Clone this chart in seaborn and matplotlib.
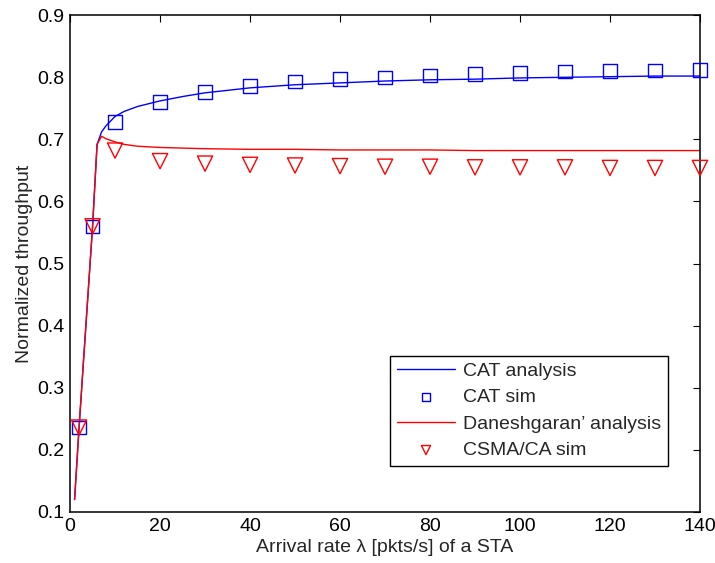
import seaborn as sns
import matplotlib.pyplot as plt
import pandas as pd

# analysis curves
ana_x = [1, 2, 3, 4, 5, 6, 7, 8, 10, 12, 15, 20, 25, 30, 40, 50, 60, 70, 80, 90, 100, 110, 120, 130, 140]
cat_ana = [0.12, 0.236, 0.345, 0.452, 0.56, 0.692, 0.712, 0.722, 0.737, 0.745, 0.753, 0.762, 0.769, 0.775, 0.783,
           0.788, 0.791, 0.794, 0.796, 0.797, 0.799, 0.800, 0.801, 0.802, 0.802]
dan_ana = [0.12, 0.236, 0.345, 0.452, 0.56, 0.692, 0.705, 0.701, 0.696, 0.692, 0.689, 0.687, 0.686, 0.685, 0.684,
           0.684, 0.683, 0.683, 0.683, 0.682, 0.682, 0.682, 0.682, 0.682, 0.682]

# simulation points
sim_x = [2, 5, 10, 20, 30, 40, 50, 60, 70, 80, 90, 100, 110, 120, 130, 140]
cat_sim = [0.236, 0.56, 0.728, 0.760, 0.776, 0.786, 0.793, 0.797, 0.800, 0.803, 0.805, 0.807, 0.809, 0.810, 0.811, 0.812]
csma_sim = [0.236, 0.56, 0.682, 0.665, 0.661, 0.659, 0.658, 0.657, 0.656, 0.656, 0.655, 0.655, 0.655, 0.654, 0.654, 0.654]

sns.set_style("white")
plt.rcParams['font.family'] = ['Liberation Sans', 'DejaVu Sans']
fs = 14

fig = plt.figure(figsize=(7.15, 5.63), dpi=100)
ax = fig.add_axes([0.098, 0.0906, 0.881, 0.8824])

ana = pd.DataFrame({'x': ana_x, 'cat': cat_ana, 'dan': dan_ana})
sim = pd.DataFrame({'x': sim_x, 'cat': cat_sim, 'csma': csma_sim})

sns.lineplot(data=ana, x='x', y='cat', ax=ax, color='blue', lw=1, label='CAT analysis')
sns.scatterplot(data=sim, x='x', y='cat', ax=ax, marker='s', s=95, facecolor='none',
                edgecolor='blue', linewidth=1, label='CAT sim', clip_on=False, zorder=3)
sns.lineplot(data=ana, x='x', y='dan', ax=ax, color='red', lw=1, label='Daneshgaran\u2019 analysis')
sns.scatterplot(data=sim, x='x', y='csma', ax=ax, marker='v', s=120, facecolor='none',
                edgecolor='red', linewidth=1, label='CSMA/CA sim', clip_on=False, zorder=3)

ax.set_xlim(0, 140)
ax.set_ylim(0.1, 0.9)
ax.set_xticks(range(0, 141, 20))
ax.set_yticks([0.1, 0.2, 0.3, 0.4, 0.5, 0.6, 0.7, 0.8, 0.9])
ax.set_xlabel('Arrival rate \u03bb [pkts/s] of a STA', fontsize=fs, labelpad=3)
ax.set_ylabel('Normalized throughput', fontsize=fs, labelpad=3)
ax.tick_params(axis='x', pad=4)
ax.tick_params(axis='y', pad=4)
ax.tick_params(direction='in', length=5, width=0.8, labelsize=fs, top=True, right=True, colors='black')
for sp in ax.spines.values():
    sp.set_visible(True)
    sp.set_color('black')
    sp.set_linewidth(1.1)

leg = ax.legend(loc='lower right', bbox_to_anchor=(0.949, 0.0926), fontsize=fs, frameon=True, fancybox=False,
                edgecolor='black', framealpha=1, handlelength=3.0, labelspacing=0.45, borderpad=0.35,
                handletextpad=0.4, borderaxespad=0, markerscale=0.6)
leg.get_frame().set_linewidth(1)

fig.savefig('out.png', dpi=100)
